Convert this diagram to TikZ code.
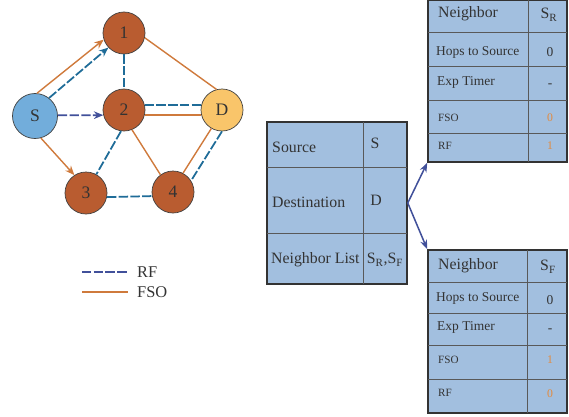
\documentclass[tikz,border=0pt]{standalone}
\usepackage{fontspec}
\setmainfont{Liberation Serif}
\usepackage{xcolor}
\usepackage{tikz}
\usetikzlibrary{arrows.meta}
\definecolor{relaybrown}{HTML}{B95C30}
\definecolor{srcblue}{HTML}{72ADDB}
\definecolor{dstyellow}{HTML}{F9C56A}
\definecolor{fsoorange}{HTML}{CF7A3C}
\definecolor{rfblue}{HTML}{1F6C98}
\definecolor{linknavy}{HTML}{41509A}
\definecolor{tblfill}{HTML}{A2BFDF}
\definecolor{valorange}{HTML}{E38A3E}

\begin{document}
\begin{tikzpicture}[x=0.03cm, y=-0.03cm,
  router/.style={circle, draw=black!75, line width=0.6pt, fill=relaybrown, minimum size=1.26cm,
    inner sep=0pt, font=\fontsize{15}{15}\selectfont, text=black!80},
  fso/.style={draw=fsoorange, line width=1.2pt},
  rf/.style={draw=rfblue, line width=1.5pt, dash pattern=on 8pt off 2pt},
  tip/.style={-{Stealth[length=8pt,width=6.5pt]}},
  tblbox/.style={draw=black!80, fill=tblfill, line width=1.3pt, inner sep=0pt},
  tblline/.style={draw=black!65, line width=0.7pt},
  cellbig/.style={anchor=west, inner sep=0pt, text=black!80, font=\fontsize{13.5}{15}\selectfont},
  cellmid/.style={anchor=west, inner sep=0pt, text=black!80, font=\fontsize{11.5}{13}\selectfont},
  cellsml/.style={anchor=west, inner sep=0pt, text=black!80, font=\fontsize{9.5}{11}\selectfont},
  cellval/.style={inner sep=0pt, text=black!80, font=\fontsize{11.5}{13}\selectfont},
  cellnum/.style={inner sep=0pt, text=valorange, font=\fontsize{10}{12}\selectfont},
  legtext/.style={anchor=west, inner sep=0pt, text=black!80, font=\fontsize{14}{16}\selectfont},
]
\useasboundingbox (0,0) rectangle (569,416);

% network
\node[router, fill=srcblue, minimum size=1.35cm] (S) at (35,116) {S};
\node[router] (n1) at (124,33) {1};
\node[router] (n2) at (124,110) {2};
\node[router, fill=dstyellow] (D) at (222,110) {D};
\node[router] (n3) at (86,193) {3};
\node[router] (n4) at (173,192) {4};

\draw[fso, tip] (S.85) -- (n1.198);
\draw[rf, tip] (S.52) -- (n1.223);
\draw[rf, draw=linknavy, tip] (S.2) -- (n2.194);
\draw[fso, tip] (S.285) -- (n3.123);
\draw[rf] (n1.south) -- (n2.north);
\draw[fso] (n1.-13) -- (D.105);
\draw[rf] (n2.14) -- (D.166);
\draw[fso] (n2.-14) -- (D.194);
\draw[rf] (n2.262) -- (n3.61);
\draw[fso] (n2.292) -- (n4.126);
\draw[rf] (n3.-11) -- (n4.191);
\draw[fso] (D.240) -- (n4.62);
\draw[rf] (D.270) -- (n4.32);

% legend
\draw[rf, draw=linknavy] (82,272) -- (128,272);
\node[legtext] (lgrf) at (137,272) {RF};
\draw[fso] (82,292) -- (128,292);
\node[legtext] (lgfso) at (137,292) {FSO};

% packet header
\node[tblbox, minimum width=4.2cm, minimum height=4.86cm] (hdr) at (337,203) {};
\draw[tblline] (363,122) -- (363,284);
\foreach \y in {167,233} \draw[tblline] (267,\y) -- (407,\y);
\node[cellbig] (hsrc) at (272,147) {Source};
\node[cellbig] (hdst) at (272,202) {Destination};
\node[cellbig] (hnb) at (271,260) {Neighbor List};
\node[cellval, font=\fontsize{13.5}{15}\selectfont] (hsrcv) at (375,143) {S};
\node[cellval, font=\fontsize{13.5}{15}\selectfont] (hdstv) at (376,200) {D};
\node[cellval, font=\fontsize{13.5}{15}\selectfont] (hnbv) at (385,260) {S\textsubscript{R},S\textsubscript{F}};

% neighbor table, RF
\node[tblbox, minimum width=4.17cm, minimum height=4.86cm] (nbR) at (497.5,81) {};
\draw[tblline] (528,0) -- (528,162);
\foreach \y in {32,66,100,133} \draw[tblline] (428,\y) -- (567,\y);
\node[cellbig] (rnb) at (438,14) {Neighbor};
\node[cellmid] (rhop) at (436,52) {Hops to Source};
\node[cellmid] (rexp) at (437,82) {Exp Timer};
\node[cellsml] (rfso) at (438,118) {FSO};
\node[cellsml] (rrf) at (438,146) {RF};
\node[cellval, font=\fontsize{13.5}{15}\selectfont] (rnbv) at (549,15) {S\textsubscript{R}};
\node[cellval] (rhopv) at (550,52) {0};
\node[cellval] (rexpv) at (550,86) {-};
\node[cellnum] (rfsov) at (550,118) {0};
\node[cellnum] (rrfv) at (550,146) {1};

% neighbor table, FSO
\node[tblbox, minimum width=4.17cm, minimum height=4.89cm] (nbF) at (497.5,331.5) {};
\draw[tblline] (527,250) -- (527,413);
\foreach \y in {282,313,345,379} \draw[tblline] (428,\y) -- (567,\y);
\node[cellbig] (fnb) at (438,266) {Neighbor};
\node[cellmid] (fhop) at (436,298) {Hops to Source};
\node[cellmid] (fexp) at (437,327) {Exp Timer};
\node[cellsml] (ffso) at (438,360) {FSO};
\node[cellsml] (frf) at (438,393) {RF};
\node[cellval, font=\fontsize{13.5}{15}\selectfont] (fnbv) at (548,267) {S\textsubscript{F}};
\node[cellval] (fhopv) at (550,300) {0};
\node[cellval] (fexpv) at (550,331) {-};
\node[cellnum] (ffsov) at (550,360) {1};
\node[cellnum] (frfv) at (550,394) {0};

\draw[linknavy, line width=1.3pt, -{Stealth[length=8pt,width=6pt]}] (hdr.east) -- (nbR.south west);
\draw[linknavy, line width=1.3pt, -{Stealth[length=8pt,width=6pt]}] (hdr.east) -- (nbF.north west);
\end{tikzpicture}
\end{document}
